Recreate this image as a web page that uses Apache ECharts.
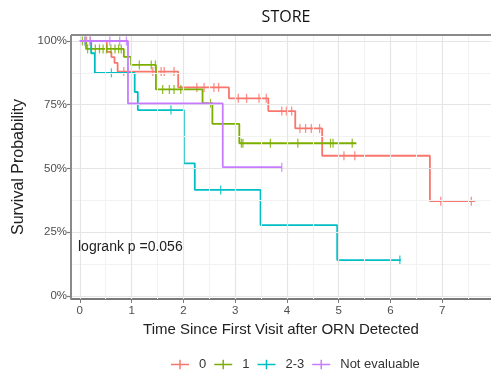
<!DOCTYPE html>
<html><head><meta charset="utf-8">
<script src="https://cdn.jsdelivr.net/npm/echarts@6/dist/echarts.min.js"></script>
<style>html,body{margin:0;padding:0;background:#fff}#c{width:491px;height:383px}</style>
</head><body><div id="c"></div>
<script>
// ---- data ----
const groups = ['0', '1', '2-3', 'Not evaluable'];
const colors = ['#F8766D', '#7CAE00', '#00BFC4', '#C77CFF'];

const times0 = [0, 0.52, 0.61, 0.67, 0.73, 1.90, 2.88, 3.64, 4.16, 4.68, 6.76];
const surv0  = [100, 95.7, 93.7, 91.4, 88.0, 81.8, 77.5, 72.5, 65.7, 55.0, 37.2];
const end0 = 7.63;
const cens0  = [0.13, 0.20, 0.85, 1.41, 1.57, 1.63, 1.82, 2.26, 2.40, 2.59, 2.68, 3.06, 3.22, 3.46, 3.60, 3.90, 3.99, 4.09, 4.25, 4.36, 4.47, 4.63, 5.10, 5.31, 6.97, 7.56];

const times1 = [0, 0.12, 0.85, 0.99, 1.47, 2.37, 2.56, 3.08];
const surv1  = [100, 96.9, 93.8, 90.6, 81.0, 75.6, 67.5, 59.9];
const end1 = 5.34;
const cens1  = [0.05, 0.15, 0.22, 0.30, 0.38, 0.45, 0.52, 0.60, 0.68, 0.75, 0.80, 1.15, 1.38, 1.46, 1.60, 1.73, 1.82, 1.95, 2.52, 3.12, 3.15, 3.68, 4.21, 4.84, 4.89, 5.26];

const times2 = [0, 0.22, 0.29, 1.06, 1.12, 2.01, 2.22, 3.49, 4.97];
const surv2  = [100, 95.2, 87.5, 80.0, 72.9, 52.0, 41.6, 27.8, 14.1];
const end2 = 6.20;
const cens2  = [0.10, 0.61, 1.76, 2.72, 6.18];

const times3 = [0, 0.93, 2.76];
const surv3  = [100, 75.5, 50.5];
const end3 = 3.90;
const cens3  = [0.10, 0.20, 0.58, 0.77, 0.90, 3.90];

const xTicks = [0, 1, 2, 3, 4, 5, 6, 7];
const yTicks = [0, 25, 50, 75, 100];
const xMinor = [0.5, 1.5, 2.5, 3.5, 4.5, 5.5, 6.5, 7.5];
const yMinor = [12.5, 37.5, 62.5, 87.5];

// ---- build ----
const X_MIN = -0.17, X_MAX = 7.94, Y_MIN = -1.18, Y_MAX = 102.35;
const curves = [
  {t: times0, s: surv0, end: end0, c: cens0},
  {t: times1, s: surv1, end: end1, c: cens1},
  {t: times2, s: surv2, end: end2, c: cens2},
  {t: times3, s: surv3, end: end3, c: cens3}
];
function survAt(cv, x) {
  let v = cv.s[0];
  for (let i = 0; i < cv.t.length; i++) if (cv.t[i] <= x) v = cv.s[i];
  return v;
}
const series = [];
const minorStyle = {color: '#F2F2F2', width: 1, type: 'solid'};
const majorStyle = {color: '#E5E5E5', width: 1.2, type: 'solid'};
const frameStyle = {color: '#8a8a8a', width: 2, type: 'solid'};
series.push({
  type: 'scatter', data: [], silent: true, z: 0,
  markLine: {
    silent: true, symbol: 'none', label: {show: false}, animation: false,
    lineStyle: {type: 'solid'},
    data: [
      ...xMinor.map(v => ({xAxis: v, lineStyle: minorStyle})),
      ...yMinor.map(v => ({yAxis: v, lineStyle: minorStyle})),
      ...xTicks.map(v => ({xAxis: v, lineStyle: majorStyle})),
      ...yTicks.map(v => ({yAxis: v, lineStyle: majorStyle}))
    ]
  }
});
series.push({
  type: 'scatter', data: [], silent: true, z: 10,
  markLine: {
    silent: true, symbol: 'none', label: {show: false}, animation: false,
    lineStyle: {type: 'solid'},
    data: [
      {yAxis: Y_MAX, lineStyle: frameStyle},
      {xAxis: X_MIN, lineStyle: frameStyle}
    ]
  }
});
curves.forEach((cv, k) => {
  const pts = cv.t.map((t, i) => [t, cv.s[i]]);
  pts.push([cv.end, cv.s[cv.s.length - 1]]);
  series.push({
    name: groups[k], type: 'line', step: 'end', data: pts, showSymbol: false,
    lineStyle: {color: colors[k], width: 1.8}, itemStyle: {color: colors[k]},
    z: 2 + k, animation: false
  });
  series.push({
    name: groups[k], type: 'scatter', data: cv.c.map(x => [x, survAt(cv, x)]),
    symbol: 'rect', symbolSize: [1.3, 9], itemStyle: {color: colors[k]}, z: 2 + k, animation: false
  });
});

const chart = echarts.init(document.getElementById('c'), null, {renderer: 'canvas'});
const plusIcon = 'path://M0,4.4h20v1.6h-20z M9.2,0h1.6v10.4h-1.6z';
chart.setOption({
  animation: false,
  title: {text: 'STORE', left: 281, top: 4, textAlign: 'center',
    textStyle: {fontFamily: 'Open Sans', fontSize: 16, fontWeight: 'normal', color: '#111'}},
  grid: {left: 71, right: -3, top: 35, bottom: 84, show: false},
  xAxis: {
    type: 'value', min: X_MIN, max: X_MAX,
    name: 'Time Since First Visit after ORN Detected', nameLocation: 'middle', nameGap: 22,
    nameTextStyle: {fontFamily: 'Liberation Sans', fontSize: 15, color: '#222'},
    axisLine: {show: true, onZero: false, lineStyle: {color: '#7a7a7a', width: 1.8}},
    axisTick: {show: true, inside: false, customValues: xTicks, length: 4, lineStyle: {color: '#7a7a7a'}},
    axisLabel: {customValues: xTicks, fontFamily: 'Liberation Sans', fontSize: 11.5, color: '#4d4d4d', margin: 6},
    splitLine: {show: false}, minorTick: {show: false}, minorSplitLine: {show: false}
  },
  yAxis: {
    type: 'value', min: Y_MIN, max: Y_MAX,
    name: 'Survival Probability', nameLocation: 'middle', nameGap: 43,
    nameTextStyle: {fontFamily: 'Liberation Sans', fontSize: 16, color: '#222'},
    axisLine: {show: true, onZero: false, lineStyle: {color: 'rgba(0,0,0,0)', width: 0}},
    axisTick: {show: true, inside: false, customValues: yTicks, length: 4, lineStyle: {color: '#7a7a7a', width: 1.2}},
    axisLabel: {customValues: yTicks, formatter: v => v + '%', fontFamily: 'Liberation Sans', fontSize: 11.5, color: '#4d4d4d', margin: 4},
    splitLine: {show: false}, minorTick: {show: false}, minorSplitLine: {show: false}
  },
  legend: {
    data: groups.map(g => ({name: g, icon: plusIcon})),
    left: 166, top: 353, itemWidth: 18, itemHeight: 10, itemGap: 8,
    textStyle: {fontFamily: 'Liberation Sans', fontSize: 13, color: '#333', padding: [0, 0, 0, 5]}
  },
  graphic: [{type: 'text', left: 78, top: 240, z: 100,
    style: {text: 'logrank p =0.056', font: '14px "Liberation Sans"', fill: '#222'}}],
  series: series
});
</script></body></html>
